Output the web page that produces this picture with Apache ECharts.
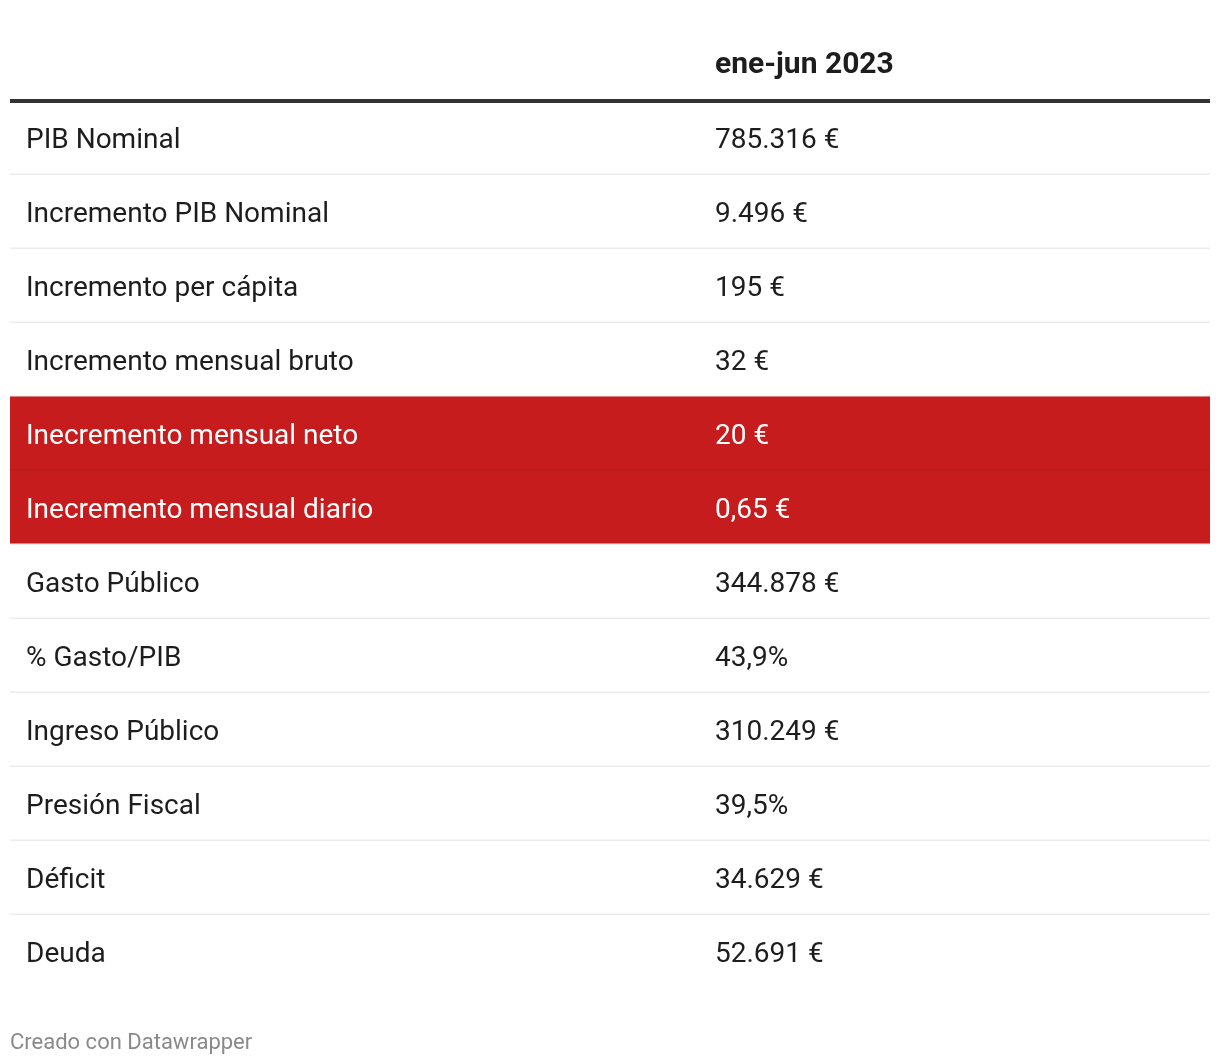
<!DOCTYPE html>
<html>
<head>
<meta charset="utf-8">
<style>
  html, body { margin: 0; padding: 0; background: #ffffff; }
  #chart { width: 1220px; height: 1064px; }
</style>
<script src="https://cdn.jsdelivr.net/npm/echarts@6/dist/echarts.min.js"></script>
</head>
<body>
<div id="chart"></div>
<script>
const columnHeader = 'ene-jun 2023';
const categories = [
  'PIB Nominal',
  'Incremento PIB Nominal',
  'Incremento per cápita',
  'Incremento mensual bruto',
  'Inecremento mensual neto',
  'Inecremento mensual diario',
  'Gasto Público',
  '% Gasto/PIB',
  'Ingreso Público',
  'Presión Fiscal',
  'Déficit',
  'Deuda'
];
const valueLabels = [
  '785.316 €',
  '9.496 €',
  '195 €',
  '32 €',
  '20 €',
  '0,65 €',
  '344.878 €',
  '43,9%',
  '310.249 €',
  '39,5%',
  '34.629 €',
  '52.691 €'
];
const highlighted = [false, false, false, false, true, true, false, false, false, false, false, false];
const footer = 'Creado con Datawrapper';

const FONT = 'Roboto, "Noto Sans", sans-serif';
const chart = echarts.init(document.getElementById('chart'), null, { renderer: 'canvas' });

const rows = categories.map((c, i) => [0, i]);

chart.setOption({
  backgroundColor: '#ffffff',
  animation: false,
  title: [
    {
      text: columnHeader,
      left: 715, top: 50, padding: 0,
      textStyle: { fontFamily: FONT, fontSize: 30, fontWeight: 'bold', color: '#1d1d1d' }
    },
    {
      text: footer,
      left: 10, top: 1032, padding: 0,
      textStyle: { fontFamily: FONT, fontSize: 22, fontWeight: 'normal', color: '#8a8a8a' }
    }
  ],
  grid: { left: 10, right: 10, top: 101, height: 74 * categories.length },
  xAxis: {
    type: 'value', min: 0, max: 1, position: 'top',
    axisLine: { show: true, onZero: false, lineStyle: { color: '#333333', width: 4, cap: 'butt' } },
    axisTick: { show: false }, axisLabel: { show: false }, splitLine: { show: false }
  },
  yAxis: {
    type: 'category', data: categories, inverse: true,
    axisLine: { show: false }, axisTick: { show: false }, axisLabel: { show: false }, splitLine: { show: false }
  },
  series: [{
    type: 'custom',
    data: rows,
    renderItem: function (params, api) {
      const i = api.value(1);
      const cs = params.coordSys;
      const cy = api.coord([0, i])[1];
      const h = api.size([0, 1])[1];
      const top = cy - h / 2;
      const hi = highlighted[i];
      const children = [];
      if (hi) {
        children.push({ type: 'rect', shape: { x: cs.x, y: top - 0.5, width: cs.width, height: h + 0.5 }, style: { fill: '#c71c1d' } });
      }
      if (i < categories.length - 1) {
        const nextHi = highlighted[i + 1];
        children.push({
          type: 'rect',
          shape: { x: cs.x, y: top + h - 1.5, width: cs.width, height: 1.5 },
          style: { fill: (hi && nextHi) ? '#b51b1c' : '#ececec' }
        });
      }
      const color = hi ? '#ffffff' : '#1d1d1d';
      children.push({
        type: 'text',
        style: { x: cs.x + 16, y: cy + 3, text: categories[i], fill: color, font: '28px ' + FONT, textVerticalAlign: 'middle', textAlign: 'left' }
      });
      children.push({
        type: 'text',
        style: { x: cs.x + 705, y: cy + 3, text: valueLabels[i], fill: color, font: '28px ' + FONT, textVerticalAlign: 'middle', textAlign: 'left' }
      });
      return { type: 'group', children: children };
    }
  }]
});
</script>
</body>
</html>
